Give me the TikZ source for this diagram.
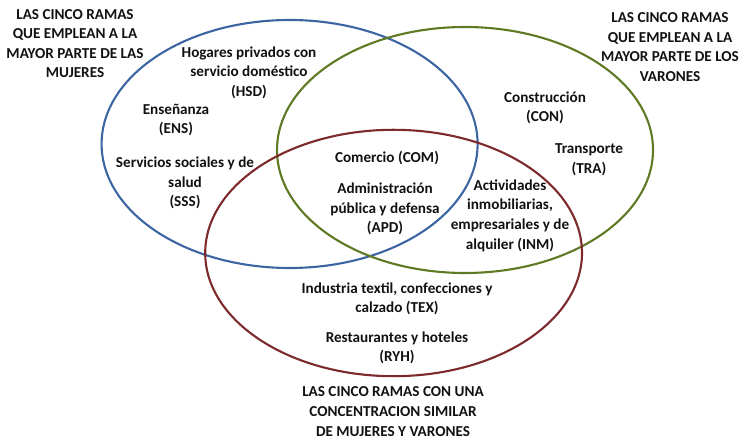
\documentclass[tikz,border=0pt]{standalone}
\usepackage{fontspec}
\setmainfont{Carlito}
\usepackage{xcolor}
\usepackage{tikz}
\definecolor{setblue}{HTML}{3D65A2}
\definecolor{setgreen}{HTML}{5F7A24}
\definecolor{setred}{HTML}{7D2A2C}
\definecolor{labeldark}{HTML}{111111}

\begin{document}
\begin{tikzpicture}[set/.style={line width=1.5pt}, rama/.style={inner sep=0pt, align=center, text=labeldark, font=\fontsize{10.8}{13.9}\selectfont\bfseries}]
\useasboundingbox (0,0) rectangle (18.475,11);
% los tres conjuntos
\draw[set, draw=setblue] (7.24,7.4) ellipse [x radius=4.7, y radius=3.1];
\draw[set, draw=setgreen] (11.625,7.25) ellipse [x radius=4.7, y radius=3.075];
\draw[set, draw=setred] (9.84,4.675) ellipse [x radius=4.71, y radius=3.08];
% titulos
\node[rama] (mujeres) at (1.875,9.91) {LAS CINCO RAMAS\\QUE EMPLEAN A LA\\MAYOR PARTE DE LAS\\MUJERES};
\node[rama] (varones) at (16.75,9.82) {LAS CINCO RAMAS\\QUE EMPLEAN A LA\\MAYOR PARTE DE LOS\\VARONES};
\node[rama] (similar) at (9.825,0.71) {LAS CINCO RAMAS CON UNA\\CONCENTRACION SIMILAR\\DE MUJERES Y VARONES};
% ramas
\node[rama] (hsd) at (6.225,9.19) {Hogares privados con\\servicio doméstico\\(HSD)};
\node[rama] (ens) at (4.4,8.0) {Enseñanza\\(ENS)};
\node[rama] (sss) at (4.625,6.425) {Servicios sociales y de\\salud\\(SSS)};
\node[rama] (com) at (9.675,7.05) {Comercio (COM)};
\node[rama] (apd) at (9.625,5.775) {Administración\\pública y defensa\\(APD)};
\node[rama] (con) at (13.625,8.3) {Construcción\\(CON)};
\node[rama] (tra) at (14.725,7.0) {Transporte\\(TRA)};
\node[rama] (inm) at (12.75,5.61) {Actividades\\inmobiliarias,\\empresariales y de\\alquiler (INM)};
\node[rama] (tex) at (9.925,3.525) {Industria textil, confecciones y\\calzado (TEX)};
\node[rama] (ryh) at (9.925,2.3) {Restaurantes y hoteles\\(RYH)};
\end{tikzpicture}
\end{document}
